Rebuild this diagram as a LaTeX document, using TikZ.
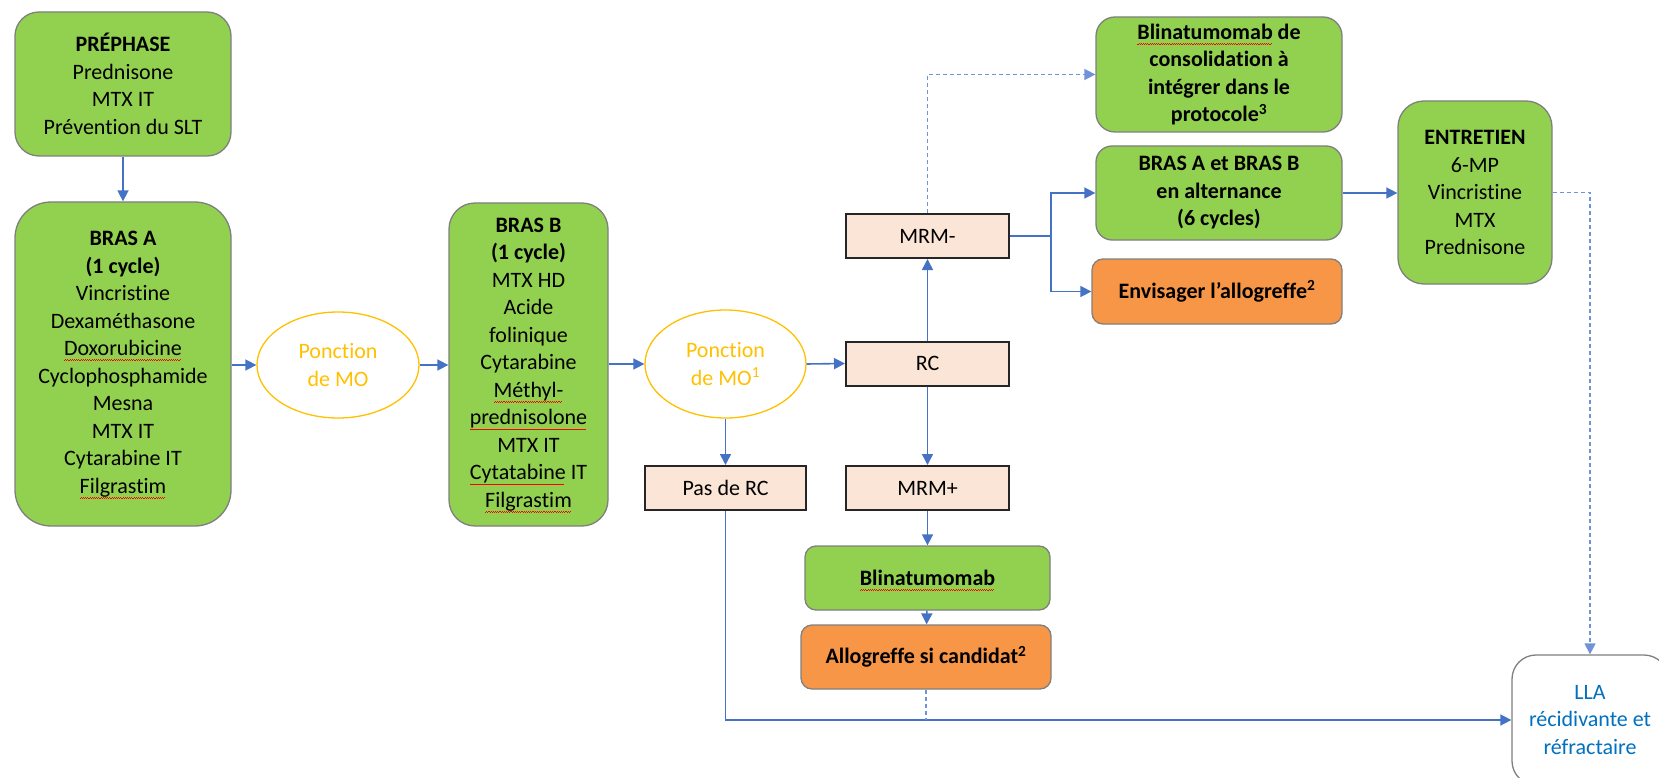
\documentclass[tikz,border=0pt]{standalone}
\usepackage{fontspec}
\setmainfont{Carlito}[Ligatures=NoCommon]
\usetikzlibrary{arrows.meta,shapes.geometric}
\definecolor{grn}{HTML}{92D050}
\definecolor{org}{HTML}{F79646}
\definecolor{peach}{HTML}{FBE5D6}
\definecolor{ylw}{HTML}{FFC000}
\definecolor{arr}{HTML}{4472C4}
\definecolor{arrlight}{HTML}{6F93D6}
\definecolor{llab}{HTML}{0070C0}
\definecolor{bord}{HTML}{7F7F7F}
\newcommand\squig[1]{\setbox0=\hbox{#1}\leavevmode\rlap{\copy0}\textcolor{red}{\raisebox{0pt}[0pt][0pt]{\hbox to \wd0{\leaders\hbox{\rule[-5.2pt]{1.1pt}{0.6pt}\rule[-4.4pt]{1.1pt}{0.6pt}}\hfill}}}}
\tikzset{
  base/.style={align=center,inner sep=0pt,font=\fontsize{22}{27.5}\selectfont},
  gbox/.style={base,draw=bord,line width=1.3pt,fill=grn,text=black},
  obox/.style={base,draw=bord,line width=1.3pt,fill=org,text=black,font=\fontsize{22}{27.5}\selectfont\bfseries},
  pbox/.style={base,draw=black!85,line width=2pt,fill=peach,minimum width=163pt,minimum height=44pt},
  ell/.style={base,ellipse,draw=ylw,line width=1.3pt,text=ylw},
  conn/.style={draw=arr,line width=1.6pt,-{Triangle[length=11pt,width=11pt]}},
  plain/.style={draw=arr,line width=1.6pt},
  dconn/.style={draw=arrlight,line width=1.6pt,dash pattern=on 4pt off 3pt}
}
\begin{document}
\begin{tikzpicture}[x=1pt,y=-1pt]
\useasboundingbox (0,0) rectangle (1659,778);
\begin{scope}
\clip (0,0) rectangle (1659,778);
% green boxes
\node[gbox,rounded corners=24pt,minimum width=216pt,minimum height=144pt] (pre) at (123,84)
  {\textbf{PRÉPHASE}\\Prednisone\\MTX IT\\Prévention du SLT};
\node[gbox,rounded corners=36pt,minimum width=216pt,minimum height=324pt] (brasA) at (123,364)
  {\textbf{BRAS A}\\\textbf{(1 cycle)}\\Vincristine\\Dexaméthasone\\\squig{Doxorubicine}\\Cyclophosphamide\\Mesna\\MTX IT\\Cytarabine IT\\\squig{Filgrastim}};
\node[ell,minimum width=162pt,minimum height=106pt] (pon1) at (338,365) {Ponction\\de MO};
\node[gbox,rounded corners=26pt,minimum width=159pt,minimum height=323pt] (brasB) at (528.5,364.5)
  {\textbf{BRAS B}\\\textbf{(1 cycle)}\\MTX HD\\Acide\\folinique\\Cytarabine\\\squig{Méthyl-}\\\squig{prednisolone}\\MTX IT\\\squig{Cytatabine} IT\\\squig{Filgrastim}};
\node[ell,minimum width=161pt,minimum height=108pt] (pon2) at (725.5,364) {Ponction\\de MO\textsuperscript{1}};
\node[pbox] (rc) at (927.5,363.5) {RC};
\node[pbox] (mrmm) at (927.5,236) {MRM-};
\node[pbox] (mrmp) at (927.5,488) {MRM+};
\node[pbox,minimum width=161pt] (pasrc) at (725.5,488) {Pas de RC};
\node[gbox,rounded corners=19pt,minimum width=246pt,minimum height=115pt,font=\fontsize{22}{27.5}\selectfont\bfseries] (blic) at (1219,74.5)
  {\squig{Blinatumomab} de\\consolidation à\\intégrer dans le\\protocole\textsuperscript{3}};
\node[gbox,rounded corners=16pt,minimum width=246pt,minimum height=94pt,font=\fontsize{22}{27.5}\selectfont\bfseries] (brasab) at (1219,193)
  {BRAS A et BRAS B\\en alternance\\(6 cycles)};
\node[obox,rounded corners=11pt,minimum width=250pt,minimum height=65pt] (envis) at (1217,291.5)
  {Envisager l’allogreffe\textsuperscript{2}};
\node[gbox,rounded corners=26pt,minimum width=154pt,minimum height=183pt] (entr) at (1475,192.5)
  {\textbf{ENTRETIEN}\\6-MP\\Vincristine\\MTX\\Prednisone};
\node[gbox,rounded corners=11pt,minimum width=245pt,minimum height=64pt,font=\fontsize{22}{27.5}\selectfont\bfseries] (blin) at (927.5,578)
  {\squig{Blinatumomab}};
\node[obox,rounded corners=11pt,minimum width=250pt,minimum height=64pt] (allo) at (926,657)
  {Allogreffe si candidat\textsuperscript{2}};
\node[base,draw=bord,line width=1.3pt,fill=white,text=llab,rounded corners=24pt,minimum width=156pt,minimum height=130pt] (lla) at (1590,720)
  {LLA\\récidivante et\\réfractaire};
% connectors
\coordinate (j) at (1051,236);
\coordinate (m) at (allo.south |- lla.west);
\draw[conn] (pre) -- (brasA);
\draw[conn] (brasA.east |- pon1.west) -- (pon1.west);
\draw[conn] (pon1.east) -- (brasB.west |- pon1.east);
\draw[conn] (brasB.east |- pon2.west) -- (pon2.west);
\draw[conn] (pon2.east) -- (rc.west);
\draw[conn] (rc) -- (mrmm);
\draw[conn] (rc) -- (mrmp);
\draw[conn] (pon2) -- (pasrc);
\draw[conn] (mrmp) -- (blin);
\draw[conn] (blin) -- (allo);
\draw[plain] (mrmm.east) -- (j);
\draw[conn] (j) |- (brasab.west);
\draw[conn] (j) |- (envis.west);
\draw[conn] (brasab.east) -- (entr.west |- brasab.east);
\draw[dconn,-{Triangle[length=11pt,width=11pt]}] (mrmm.north) |- (blic.west);
\draw[dconn,-{Triangle[length=11pt,width=11pt]}] (entr.east) -| (lla.north);
\draw[plain,-{Triangle[length=11pt,width=11pt]}] (pasrc.south) |- (lla.west);
\draw[dconn] (allo.south) -- (m);
\end{scope}
\end{tikzpicture}
\end{document}
